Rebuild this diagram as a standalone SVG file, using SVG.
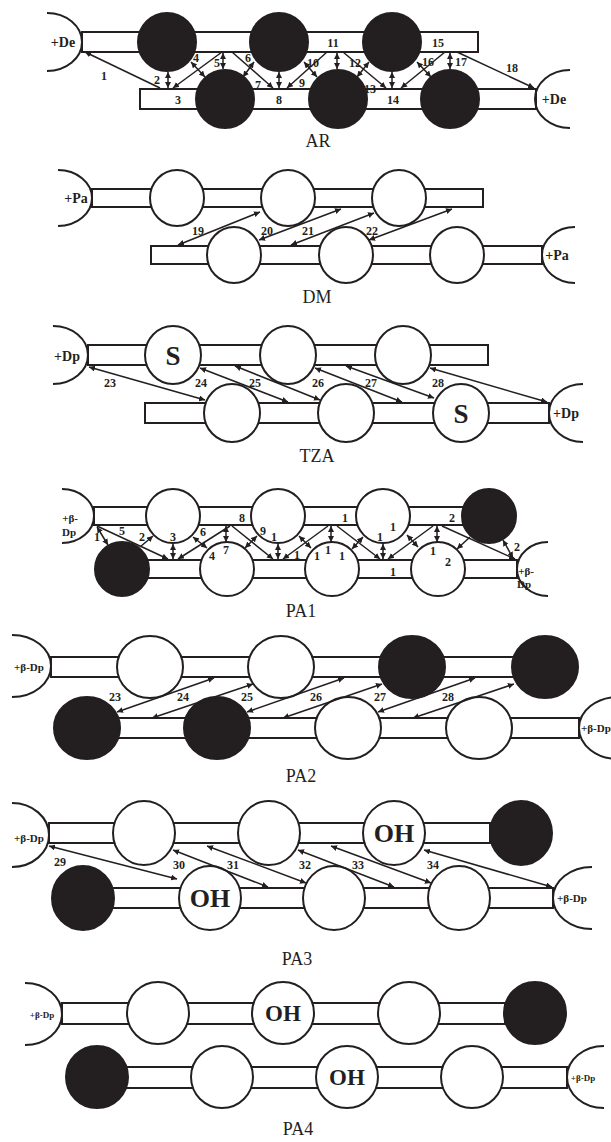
<svg xmlns="http://www.w3.org/2000/svg" width="611" height="1142" viewBox="0 0 611 1142">
<style>
.bar{fill:#fff;stroke:#231f20;stroke-width:2}
.w{fill:#fff;stroke:#231f20;stroke-width:2}
.b{fill:#231f20;stroke:#231f20;stroke-width:2}
.end{fill:none;stroke:#231f20;stroke-width:2}
.c line{stroke:#231f20;stroke-width:1.5}
.s{marker-end:url(#h)}
.d{marker-start:url(#h);marker-end:url(#h)}
text{font-family:"Liberation Serif",serif;fill:#231f20;text-anchor:middle}
.n{font-weight:bold;font-size:12px}
.e{font-weight:bold;font-size:14px}
.g{font-weight:bold;font-size:11px}
.g9{font-weight:bold;font-size:9px}
.lab{font-size:18px}
.big{font-weight:bold;font-size:27px}
.oh{font-weight:bold;font-size:26px}
.oh4{font-weight:bold;font-size:23px}
</style>
<defs>
<marker id="h" viewBox="0 0 10 10" refX="10" refY="5" markerWidth="6" markerHeight="6" markerUnits="userSpaceOnUse" orient="auto-start-reverse"><path d="M0,0L10,5L0,10z" fill="#231f20"/></marker>
</defs>

<!-- ===== AR ===== -->
<g id="AR">
<g id="ar-deL"><path class="end" d="M47,13 A35,29 0 0 1 47,71"/><text class="e" x="63" y="47">+De</text></g>
<rect id="ar-topbar" class="bar" x="82" y="32" width="396" height="20"/>
<rect id="ar-botbar" class="bar" x="140" y="89" width="396" height="20"/>
<g id="ar-t1"><circle class="b" cx="167" cy="42" r="29"/></g>
<g id="ar-t2"><circle class="b" cx="279" cy="42" r="29"/></g>
<g id="ar-t3"><circle class="b" cx="392" cy="42" r="29"/></g>
<g id="ar-b1"><circle class="b" cx="225" cy="99" r="29"/></g>
<g id="ar-b2"><circle class="b" cx="338" cy="99" r="29"/></g>
<g id="ar-b3"><circle class="b" cx="450" cy="99" r="29"/></g>
<g id="ar-deR"><path class="end" d="M570,70 A35,29 0 0 0 570,128"/><text class="e" x="554" y="104">+De</text></g>
<text class="lab" x="318" y="147">AR</text>
</g>

<!-- ===== DM ===== -->
<g id="DM">
<g id="dm-paL"><path class="end" d="M58,170 A34,28 0 0 1 58,226"/><text class="e" x="76" y="203">+Pa</text></g>
<rect id="dm-topbar" class="bar" x="92" y="189" width="391" height="18"/>
<rect id="dm-botbar" class="bar" x="151" y="246" width="391" height="18"/>
<g id="dm-t1"><ellipse class="w" cx="177" cy="198" rx="27" ry="28"/></g>
<g id="dm-t2"><ellipse class="w" cx="288" cy="198" rx="27" ry="28"/></g>
<g id="dm-t3"><ellipse class="w" cx="399" cy="198" rx="27" ry="28"/></g>
<g id="dm-b1"><ellipse class="w" cx="234" cy="255" rx="27" ry="28"/></g>
<g id="dm-b2"><ellipse class="w" cx="346" cy="255" rx="27" ry="28"/></g>
<g id="dm-b3"><ellipse class="w" cx="457" cy="255" rx="27" ry="28"/></g>
<g id="dm-paR"><path class="end" d="M575,227 A33,28 0 0 0 575,283"/><text class="e" x="557" y="260">+Pa</text></g>
<text class="lab" x="317" y="303">DM</text>
</g>

<!-- ===== TZA ===== -->
<g id="TZA">
<g id="tza-dpL"><path class="end" d="M53,326 A35,29 0 0 1 53,384"/><text class="e" x="67" y="361">+Dp</text></g>
<rect id="tza-topbar" class="bar" x="88" y="345" width="400" height="20"/>
<rect id="tza-botbar" class="bar" x="145" y="403" width="404" height="20"/>
<g id="tza-t1"><ellipse class="w" cx="173" cy="355" rx="28" ry="29"/><text class="big" x="173" y="365">S</text></g>
<g id="tza-t2"><ellipse class="w" cx="288" cy="355" rx="28" ry="29"/></g>
<g id="tza-t3"><ellipse class="w" cx="403" cy="355" rx="28" ry="29"/></g>
<g id="tza-b1"><ellipse class="w" cx="232" cy="413" rx="28" ry="29"/></g>
<g id="tza-b2"><ellipse class="w" cx="346" cy="413" rx="28" ry="29"/></g>
<g id="tza-b3"><ellipse class="w" cx="461" cy="413" rx="28" ry="29"/><text class="big" x="461" y="423">S</text></g>
<g id="tza-dpR"><path class="end" d="M583,384 A34,29 0 0 0 583,442"/><text class="e" x="566" y="418">+Dp</text></g>
<text class="lab" x="317" y="462">TZA</text>
</g>

<!-- ===== PA1 ===== -->
<g id="PA1">
<g id="pa1-L"><path class="end" d="M62,489 A32,27 0 0 1 62,543"/><text class="g" x="70" y="522">+β-</text><text class="g" x="69" y="536">Dp</text></g>
<rect id="pa1-topbar" class="bar" x="94" y="507" width="370" height="18"/>
<rect id="pa1-botbar" class="bar" x="122" y="560" width="395" height="18"/>
<g id="pa1-t1"><circle class="w" cx="173" cy="516" r="27"/></g>
<g id="pa1-t2"><circle class="w" cx="278" cy="516" r="27"/></g>
<g id="pa1-t3"><circle class="w" cx="383" cy="516" r="27"/></g>
<g id="pa1-t4"><circle class="b" cx="489" cy="516" r="27"/></g>
<g id="pa1-b1"><circle class="b" cx="122" cy="569" r="27"/></g>
<g id="pa1-b2"><circle class="w" cx="227" cy="569" r="27"/></g>
<g id="pa1-b3"><circle class="w" cx="332" cy="569" r="27"/></g>
<g id="pa1-b4"><circle class="w" cx="438" cy="569" r="27"/></g>
<g id="pa1-R"><path class="end" d="M548,542 A31,27 0 0 0 548,596"/><text class="g" x="526" y="575">+β-</text><text class="g" x="524" y="588">Dp</text></g>
<text class="lab" x="301" y="617">PA1</text>
</g>

<!-- ===== PA2 ===== -->
<g id="PA2">
<g id="pa2-L"><path class="end" d="M12,635 A39,31 0 0 1 12,697"/><text class="g" x="29" y="671">+β-Dp</text></g>
<rect id="pa2-topbar" class="bar" x="51" y="657" width="494" height="20"/>
<rect id="pa2-botbar" class="bar" x="87" y="718" width="492" height="20"/>
<g id="pa2-t1"><ellipse class="w" cx="150" cy="667" rx="33" ry="31"/></g>
<g id="pa2-t2"><ellipse class="w" cx="281" cy="667" rx="33" ry="31"/></g>
<g id="pa2-t3"><ellipse class="b" cx="412" cy="667" rx="33" ry="31"/></g>
<g id="pa2-t4"><ellipse class="b" cx="545" cy="667" rx="33" ry="31"/></g>
<g id="pa2-b1"><ellipse class="b" cx="87" cy="728" rx="33" ry="31"/></g>
<g id="pa2-b2"><ellipse class="b" cx="217" cy="728" rx="33" ry="31"/></g>
<g id="pa2-b3"><ellipse class="w" cx="348" cy="728" rx="33" ry="31"/></g>
<g id="pa2-b4"><ellipse class="w" cx="479" cy="728" rx="33" ry="31"/></g>
<g id="pa2-R"><path class="end" d="M618,697 A39,31 0 0 0 618,759"/><text class="g" x="581" y="732" style="text-anchor:start">+β-Dp</text></g>
<text class="lab" x="301" y="782">PA2</text>
</g>

<!-- ===== PA3 ===== -->
<g id="PA3">
<g id="pa3-L"><path class="end" d="M12,803 A37,32 0 0 1 12,867"/><text class="g" x="29" y="842">+β-Dp</text></g>
<rect id="pa3-topbar" class="bar" x="49" y="823" width="441" height="20"/>
<rect id="pa3-botbar" class="bar" x="83" y="888" width="470" height="20"/>
<g id="pa3-t1"><ellipse class="w" cx="144" cy="833" rx="31" ry="32"/></g>
<g id="pa3-t2"><ellipse class="w" cx="269" cy="833" rx="31" ry="32"/></g>
<g id="pa3-t3"><ellipse class="w" cx="394" cy="833" rx="31" ry="32"/><text class="oh" x="394" y="842">OH</text></g>
<g id="pa3-t4"><ellipse class="b" cx="521" cy="833" rx="31" ry="32"/></g>
<g id="pa3-b1"><ellipse class="b" cx="83" cy="898" rx="31" ry="32"/></g>
<g id="pa3-b2"><ellipse class="w" cx="210" cy="898" rx="31" ry="32"/><text class="oh" x="210" y="907">OH</text></g>
<g id="pa3-b3"><ellipse class="w" cx="334" cy="898" rx="31" ry="32"/></g>
<g id="pa3-b4"><ellipse class="w" cx="459" cy="898" rx="31" ry="32"/></g>
<g id="pa3-R"><path class="end" d="M592,867 A39,31 0 0 0 592,929"/><text class="g" x="572" y="902">+β-Dp</text></g>
<text class="lab" x="297" y="965">PA3</text>
</g>

<!-- ===== PA4 ===== -->
<g id="PA4">
<g id="pa4-L"><path class="end" d="M25,983 A37,31 0 0 1 25,1045"/><text class="g9" x="42" y="1018">+β-Dp</text></g>
<rect id="pa4-topbar" class="bar" x="62" y="1003" width="443" height="21"/>
<rect id="pa4-botbar" class="bar" x="97" y="1067" width="470" height="21"/>
<g id="pa4-t1"><ellipse class="w" cx="158" cy="1013" rx="31" ry="31"/></g>
<g id="pa4-t2"><ellipse class="w" cx="283" cy="1013" rx="31" ry="31"/><text class="oh4" x="283" y="1021">OH</text></g>
<g id="pa4-t3"><ellipse class="w" cx="409" cy="1013" rx="31" ry="31"/></g>
<g id="pa4-t4"><ellipse class="b" cx="535" cy="1013" rx="31" ry="31"/></g>
<g id="pa4-b1"><ellipse class="b" cx="97" cy="1077" rx="31" ry="31"/></g>
<g id="pa4-b2"><ellipse class="w" cx="222" cy="1077" rx="31" ry="31"/></g>
<g id="pa4-b3"><ellipse class="w" cx="347" cy="1077" rx="31" ry="31"/><text class="oh4" x="347" y="1085">OH</text></g>
<g id="pa4-b4"><ellipse class="w" cx="472" cy="1077" rx="31" ry="31"/></g>
<g id="pa4-R"><path class="end" d="M604,1046 A37,31 0 0 0 604,1108"/><text class="g9" x="583" y="1081">+β-Dp</text></g>
<text class="lab" x="298" y="1135">PA4</text>
</g>

<!-- ===== connectors ===== -->
<g id="connectors" class="c">
<!-- AR -->
<line class="s" x1="160" y1="88" x2="85" y2="52"/>
<line class="d" x1="168" y1="72" x2="168" y2="88"/>
<line class="d" x1="191" y1="62" x2="205" y2="77"/>
<line class="d" x1="223" y1="53" x2="223" y2="69"/>
<line class="s" x1="222" y1="52" x2="173" y2="88"/>
<line class="s" x1="232" y1="52" x2="273" y2="88"/>
<line class="d" x1="254" y1="62" x2="243" y2="77"/>
<line class="d" x1="279" y1="72" x2="279" y2="88"/>
<line class="s" x1="327" y1="52" x2="287" y2="88"/>
<line class="d" x1="304" y1="62" x2="317" y2="77"/>
<line class="d" x1="337" y1="53" x2="337" y2="69"/>
<line class="s" x1="343" y1="52" x2="386" y2="88"/>
<line class="d" x1="369" y1="62" x2="357" y2="77"/>
<line class="d" x1="392" y1="72" x2="392" y2="88"/>
<line class="s" x1="445" y1="52" x2="401" y2="88"/>
<line class="d" x1="417" y1="62" x2="431" y2="77"/>
<line class="d" x1="450" y1="53" x2="450" y2="69"/>
<line class="s" x1="457" y1="52" x2="534" y2="88"/>
<!-- DM -->
<line class="d" x1="178" y1="245" x2="260" y2="212"/>
<line class="d" x1="259" y1="240" x2="341" y2="209"/>
<line class="d" x1="291" y1="245" x2="374" y2="213"/>
<line class="d" x1="369" y1="240" x2="452" y2="209"/>
<!-- TZA -->
<line class="d" x1="89" y1="367" x2="205" y2="400"/>
<line class="d" x1="200" y1="368" x2="288" y2="402"/>
<line class="d" x1="235" y1="366" x2="320" y2="400"/>
<line class="d" x1="315" y1="368" x2="402" y2="402"/>
<line class="d" x1="346" y1="366" x2="434" y2="398"/>
<line class="d" x1="430" y1="368" x2="547" y2="402"/>
<!-- PA1 -->
<line class="d" x1="97" y1="527" x2="108" y2="545"/>
<line class="s" x1="97" y1="526" x2="168" y2="559"/>
<line class="s" x1="140" y1="547" x2="153" y2="536"/>
<line class="d" x1="173" y1="544" x2="173" y2="559"/>
<line class="s" x1="230" y1="526" x2="178" y2="559"/>
<line class="d" x1="193" y1="537" x2="207" y2="548"/>
<line class="d" x1="226" y1="526" x2="226" y2="542"/>
<line class="s" x1="232" y1="526" x2="273" y2="559"/>
<line class="d" x1="257" y1="536" x2="245" y2="548"/>
<line class="d" x1="278" y1="544" x2="278" y2="559"/>
<line class="s" x1="328" y1="526" x2="283" y2="559"/>
<line class="d" x1="299" y1="536" x2="311" y2="548"/>
<line class="d" x1="331" y1="526" x2="331" y2="542"/>
<line class="s" x1="337" y1="526" x2="380" y2="559"/>
<line class="d" x1="363" y1="537" x2="352" y2="549"/>
<line class="d" x1="383" y1="544" x2="383" y2="559"/>
<line class="s" x1="433" y1="526" x2="388" y2="559"/>
<line class="d" x1="407" y1="535" x2="418" y2="547"/>
<line class="d" x1="437" y1="526" x2="437" y2="542"/>
<line class="s" x1="442" y1="526" x2="515" y2="559"/>
<line class="s" x1="470" y1="537" x2="457" y2="549"/>
<line class="d" x1="503" y1="540" x2="513" y2="558"/>
<!-- PA2 -->
<line class="d" x1="117" y1="712" x2="214" y2="678"/>
<line class="d" x1="152" y1="718" x2="253" y2="684"/>
<line class="d" x1="247" y1="712" x2="344" y2="678"/>
<line class="d" x1="283" y1="718" x2="382" y2="684"/>
<line class="d" x1="378" y1="712" x2="475" y2="678"/>
<line class="d" x1="413" y1="718" x2="514" y2="684"/>
<!-- PA3 -->
<line class="d" x1="49" y1="846" x2="177" y2="879"/>
<line class="d" x1="173" y1="850" x2="268" y2="887"/>
<line class="d" x1="207" y1="846" x2="306" y2="883"/>
<line class="d" x1="298" y1="850" x2="394" y2="887"/>
<line class="d" x1="331" y1="846" x2="431" y2="883"/>
<line class="d" x1="424" y1="850" x2="552" y2="887"/>
</g>

<!-- ===== connector labels ===== -->
<g id="connector-labels">
<text class="n" x="104" y="80">1</text>
<text class="n" x="157" y="84">2</text>
<text class="n" x="178" y="104">3</text>
<text class="n" x="196" y="62">4</text>
<text class="n" x="217" y="67">5</text>
<text class="n" x="248" y="62">6</text>
<text class="n" x="258" y="89">7</text>
<text class="n" x="279" y="104">8</text>
<text class="n" x="302" y="87">9</text>
<text class="n" x="313" y="67">10</text>
<text class="n" x="333" y="47">11</text>
<text class="n" x="355" y="67">12</text>
<text class="n" x="370" y="93">13</text>
<text class="n" x="393" y="104">14</text>
<text class="n" x="438" y="47">15</text>
<text class="n" x="428" y="66">16</text>
<text class="n" x="461" y="66">17</text>
<text class="n" x="512" y="72">18</text>

<text class="n" x="198" y="235">19</text>
<text class="n" x="267" y="235">20</text>
<text class="n" x="308" y="235">21</text>
<text class="n" x="372" y="235">22</text>

<text class="n" x="110" y="387">23</text>
<text class="n" x="201" y="387">24</text>
<text class="n" x="255" y="387">25</text>
<text class="n" x="318" y="387">26</text>
<text class="n" x="371" y="387">27</text>
<text class="n" x="438" y="387">28</text>

<text class="n" x="97" y="541">1</text>
<text class="n" x="122" y="535">5</text>
<text class="n" x="142" y="541">2</text>
<text class="n" x="173" y="541">3</text>
<text class="n" x="203" y="536">6</text>
<text class="n" x="212" y="560">4</text>
<text class="n" x="226" y="554">7</text>
<text class="n" x="242" y="522">8</text>
<text class="n" x="263" y="535">9</text>
<text class="n" x="274" y="541">1</text>
<text class="n" x="297" y="559">1</text>
<text class="n" x="317" y="560">1</text>
<text class="n" x="328" y="554">1</text>
<text class="n" x="342" y="560">1</text>
<text class="n" x="345" y="522">1</text>
<text class="n" x="380" y="541">1</text>
<text class="n" x="393" y="531">1</text>
<text class="n" x="393" y="576">1</text>
<text class="n" x="433" y="555">1</text>
<text class="n" x="452" y="522">2</text>
<text class="n" x="448" y="566">2</text>
<text class="n" x="517" y="551">2</text>

<text class="n" x="115" y="701">23</text>
<text class="n" x="183" y="701">24</text>
<text class="n" x="247" y="701">25</text>
<text class="n" x="316" y="701">26</text>
<text class="n" x="380" y="701">27</text>
<text class="n" x="448" y="701">28</text>

<text class="n" x="60" y="866">29</text>
<text class="n" x="179" y="869">30</text>
<text class="n" x="233" y="869">31</text>
<text class="n" x="305" y="869">32</text>
<text class="n" x="358" y="869">33</text>
<text class="n" x="433" y="869">34</text>
</g>
</svg>
